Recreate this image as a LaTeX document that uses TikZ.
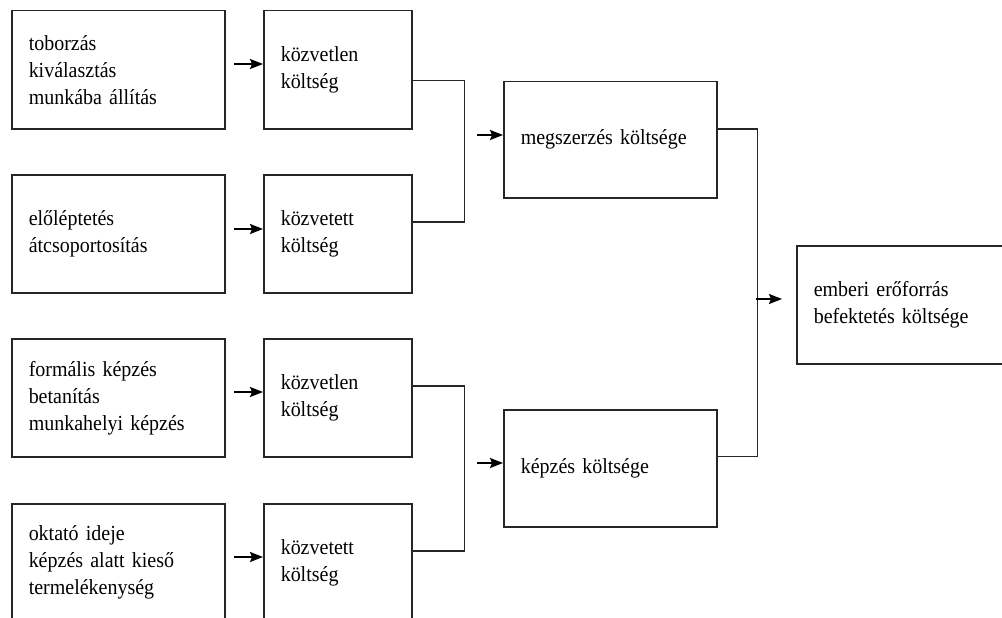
\documentclass[tikz,border=0pt]{standalone}
\usepackage{fontspec}
\setmainfont[FakeStretch=0.93,WordSpace=0.75]{Liberation Serif}
\usetikzlibrary{arrows.meta}
\begin{document}
\begin{tikzpicture}[x=1pt,y=-1pt,
  box/.style={draw=black!85, line width=1.5pt, rectangle, anchor=north west,
    inner xsep=17pt, inner ysep=0pt, align=left, minimum height=118pt,
    font=\fontsize{21.5pt}{27pt}\selectfont},
  wbox/.style={box, text width=179pt},
  nbox/.style={box, text width=114pt},
  fbox/.style={box, text width=216pt},
  link/.style={draw=black!85, line width=1.5pt},
  arr/.style={line width=1.8pt, -{Stealth[length=13pt,width=10pt,inset=2pt]}}]
\useasboundingbox (0,0) rectangle (1002,618);
\clip (0,0) rectangle (1002,618);
\fill[white] (0,0) rectangle (1002,618);
% first column
\node[wbox] (a1) at (11,10)  {toborzás\\kiválasztás\\munkába állítás};
\node[wbox] (a2) at (11,174) {előléptetés\\átcsoportosítás};
\node[wbox] (a3) at (11,338) {formális képzés\\betanítás\\munkahelyi képzés};
\node[wbox] (a4) at (11,503) {oktató ideje\\képzés alatt kieső\\termelékenység};
% second column
\node[nbox] (k1) at (263,10)  {közvetlen\\költség};
\node[nbox] (k2) at (263,174) {közvetett\\költség};
\node[nbox] (k3) at (263,338) {közvetlen\\költség};
\node[nbox] (k4) at (263,503) {közvetett\\költség};
% third column
\node[wbox, minimum height=116pt] (m) at (503,81)  {megszerzés költsége};
\node[wbox, minimum height=117pt] (t) at (503,409) {képzés költsége};
% final
\node[fbox] (f) at (796,245) {emberi erőforrás\\befektetés költsége};
% arrows col1 -> col2
\coordinate (s1) at (234,64);
\coordinate (s2) at (234,229);
\coordinate (s3) at (234,392);
\coordinate (s4) at (234,557);
\draw[arr] (s1) -- (s1 -| k1.west);
\draw[arr] (s2) -- (s2 -| k2.west);
\draw[arr] (s3) -- (s3 -| k3.west);
\draw[arr] (s4) -- (s4 -| k4.west);
% brackets
\draw[link] ([yshift=-11pt]k1.east) -- ++(52,0) |- ([yshift=12pt]k2.east);
\draw[link] ([yshift=12pt]k3.east) -- ++(52,0) |- ([yshift=12pt]k4.east);
\coordinate (s5) at (477,135);
\coordinate (s6) at (477,463);
\draw[arr] (s5) -- (s5 -| m.west);
\draw[arr] (s6) -- (s6 -| t.west);
\draw[link] ([yshift=11pt]m.east) -- ++(40,0) |- ([yshift=12pt]t.east);
\coordinate (s7) at (756,299);
\coordinate (e7) at (782,299);
\draw[arr] (s7) -- (e7);
\end{tikzpicture}
\end{document}
